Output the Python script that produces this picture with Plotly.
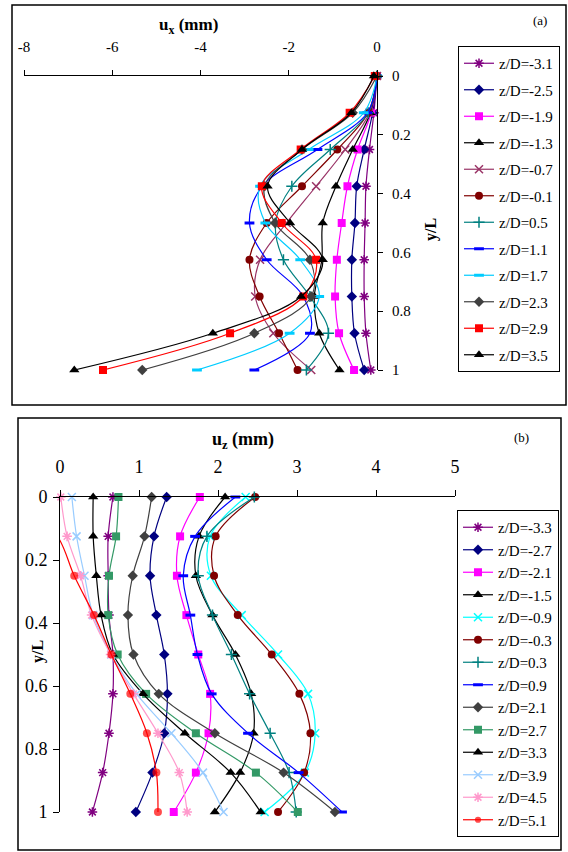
import plotly.graph_objects as go

W, H = 568, 852
FONT = "Liberation Serif"

# ---------------- data: panel (a) ----------------
yL = [0, 0.125, 0.25, 0.375, 0.5, 0.625, 0.75, 0.875, 1]
a_labels = ["z/D=-3.1", "z/D=-2.5", "z/D=-1.9", "z/D=-1.3", "z/D=-0.7", "z/D=-0.1",
            "z/D=0.5", "z/D=1.1", "z/D=1.7", "z/D=2.3", "z/D=2.9", "z/D=3.5"]
ux_m31 = [0, -0.07, -0.17, -0.25, -0.27, -0.29, -0.29, -0.25, -0.14]
ux_m25 = [0, -0.10, -0.29, -0.46, -0.50, -0.57, -0.57, -0.51, -0.29]
ux_m19 = [0, -0.13, -0.44, -0.67, -0.80, -0.91, -0.95, -0.86, -0.52]
ux_m13 = [0, -0.15, -0.55, -0.93, -1.23, -1.25, -1.42, -1.31, -0.85]
ux_m07 = [0, -0.17, -0.72, -1.38, -2.05, -2.65, -2.76, -2.35, -1.49]
ux_m01 = [0, -0.20, -0.90, -1.70, -2.50, -2.89, -2.66, -2.22, -1.80]
ux_p05 = [0, -0.20, -1.06, -1.93, -2.30, -2.12, -1.52, -1.10, -1.60]
ux_p11 = [0, -0.22, -1.35, -2.60, -2.89, -2.50, -1.67, -1.52, -2.78]
ux_p17 = [0, -0.30, -1.55, -2.65, -2.53, -1.74, -1.31, -1.98, -4.08]
ux_p23 = [0, -0.55, -1.70, -2.55, -2.31, -1.52, -1.49, -2.78, -5.32]
ux_p29 = [-0.05, -0.62, -1.73, -2.61, -2.16, -1.38, -1.67, -3.33, -6.21]
ux_p35 = [-0.07, -0.58, -1.70, -2.48, -1.97, -1.23, -1.72, -3.72, -6.86]
a_values = [ux_m31, ux_m25, ux_m19, ux_m13, ux_m07, ux_m01,
            ux_p05, ux_p11, ux_p17, ux_p23, ux_p29, ux_p35]

# ---------------- data: panel (b) ----------------
b_labels = ["z/D=-3.3", "z/D=-2.7", "z/D=-2.1", "z/D=-1.5", "z/D=-0.9", "z/D=-0.3", "z/D=0.3",
            "z/D=0.9", "z/D=2.1", "z/D=2.7", "z/D=3.3", "z/D=3.9", "z/D=4.5", "z/D=5.1"]
uz_m33 = [0.67, 0.61, 0.61, 0.62, 0.67, 0.67, 0.62, 0.54, 0.41]
uz_m27 = [1.35, 1.19, 1.14, 1.22, 1.32, 1.36, 1.32, 1.17, 0.96]
uz_m21 = [1.77, 1.52, 1.48, 1.60, 1.75, 1.90, 1.88, 1.72, 1.44]
uz_m15 = [2.09, 1.76, 1.72, 1.93, 2.22, 2.42, 2.45, 2.28, 1.96]
uz_m09 = [2.35, 1.90, 1.91, 2.30, 2.76, 3.14, 3.23, 3.10, 2.59]
uz_m03 = [2.47, 1.97, 1.95, 2.25, 2.68, 3.03, 3.17, 3.09, 2.76]
uz_p03 = [2.46, 1.86, 1.75, 1.93, 2.17, 2.40, 2.66, 2.90, 2.99]
uz_p09 = [2.22, 1.71, 1.56, 1.65, 1.74, 1.92, 2.38, 3.02, 3.57]
uz_p21 = [1.16, 1.07, 0.92, 0.86, 0.93, 1.25, 1.96, 2.83, 3.48]
uz_p27 = [0.74, 0.71, 0.62, 0.61, 0.73, 1.09, 1.72, 2.48, 3.01]
uz_p33 = [0.42, 0.42, 0.46, 0.52, 0.67, 1.05, 1.58, 2.16, 2.54]
uz_p39 = [0.15, 0.21, 0.31, 0.42, 0.65, 0.97, 1.41, 1.81, 2.07]
uz_p45 = [0.01, 0.09, 0.26, 0.40, 0.64, 0.93, 1.24, 1.51, 1.61]
uz_p51 = [-0.50, -0.03, 0.18, 0.43, 0.65, 0.89, 1.10, 1.22, 1.24]
b_values = [uz_m33, uz_m27, uz_m21, uz_m15, uz_m09, uz_m03, uz_p03,
            uz_p09, uz_p21, uz_p27, uz_p33, uz_p39, uz_p45, uz_p51]

a_xticks = [-8, -6, -4, -2, 0]
b_xticks = [0, 1, 2, 3, 4, 5]
y_ticks = [0, 0.2, 0.4, 0.6, 0.8, 1]
y_ticktext = ["0", "0.2", "0.4", "0.6", "0.8", "1"]

# ---------------- styles ----------------
a_styles = [
    ("#800080", "asterisk-open"), ("#000080", "diamond"), ("#FF00FF", "square"),
    ("#000000", "triangle-up"), ("#993366", "x-thin-open"), ("#800000", "circle"),
    ("#008080", "cross-thin-open"), ("#0000FF", "line-ew-open"), ("#00CCFF", "line-ew-open"),
    ("#404040", "diamond"), ("#FF0000", "square"), ("#000000", "triangle-up"),
]
b_styles = [
    ("#800080", "asterisk-open"), ("#000080", "diamond"), ("#FF00FF", "square"),
    ("#000000", "triangle-up"), ("#00FFFF", "x-thin-open"), ("#800000", "circle"),
    ("#008080", "cross-thin-open"), ("#0000FF", "line-ew-open"), ("#404040", "diamond"),
    ("#339966", "square"), ("#000000", "triangle-up"), ("#99CCFF", "x-thin-open"),
    ("#FF99CC", "asterisk-open"), ("#FF0000", "circle"),
]


def marker_for(color, sym):
    open_sym = sym.endswith("open")
    size = 8
    lw = 1.5
    if sym == "line-ew-open":
        size, lw = 7, 3
    if sym == "triangle-up":
        size = 9
    return dict(color=color, symbol=sym, size=size,
                line=dict(color=color, width=lw if open_sym else 0))


fig = go.Figure()

for i, (lab, vals) in enumerate(zip(a_labels, a_values)):
    c, s = a_styles[i]
    fig.add_trace(go.Scatter(
        x=vals, y=yL, name=lab, mode="lines+markers", xaxis="x", yaxis="y",
        line=dict(color=c, width=1.2, shape="spline"), marker=marker_for(c, s),
        cliponaxis=False, legend="legend", legendgroup="a%d" % i))

for i, (lab, vals) in enumerate(zip(b_labels, b_values)):
    c, s = b_styles[i]
    m = marker_for(c, s)
    if lab == "z/D=5.1":
        m["size"] = [0 if v < 0 else m["size"] for v in vals]
    fig.add_trace(go.Scatter(
        x=vals, y=yL, name=lab, mode="lines+markers", xaxis="x2", yaxis="y2",
        line=dict(color=c, width=1.2, shape="spline"), marker=m,
        cliponaxis=False, legend="legend2", legendgroup="b%d" % i))


def px(x):
    return x / W


def py(y):
    return 1 - y / H


def note(text, x, y, size, angle=0):
    return dict(text=text, x=px(x), y=py(y), xref="paper", yref="paper",
                xanchor="center", yanchor="middle", showarrow=False, textangle=angle,
                font=dict(size=size, family=FONT, color="black"))


axis_common = dict(showline=True, linecolor="black", linewidth=1, ticks="outside",
                   tickcolor="black", showgrid=False, zeroline=False, automargin=False)

fig.update_layout(
    template="none",
    width=W, height=H, autosize=False,
    margin=dict(l=0, r=0, t=0, b=0, pad=0, autoexpand=False),
    paper_bgcolor="white", plot_bgcolor="rgba(0,0,0,0)",
    font=dict(family=FONT, color="black"),
    xaxis=dict(domain=[px(24), px(377)], range=[-8, 0], side="top", anchor="y",
               tickvals=a_xticks, ticktext=[str(v) for v in a_xticks], ticklen=5,
               ticklabelstandoff=12, tickfont=dict(size=15, family=FONT), **axis_common),
    yaxis=dict(domain=[py(370), py(76)], range=[1, 0], side="right", anchor="x",
               tickvals=y_ticks, ticktext=y_ticktext, ticklen=5,
               ticklabelstandoff=6, tickfont=dict(size=15, family=FONT), **axis_common),
    xaxis2=dict(domain=[px(60), px(455)], range=[0, 5], side="top", anchor="y2",
                tickvals=b_xticks, ticktext=[str(v) for v in b_xticks], ticklen=6,
                ticklabelstandoff=10, tickfont=dict(size=18, family=FONT), **axis_common),
    yaxis2=dict(domain=[py(812), py(497)], range=[1, 0], side="left", anchor="x2",
                tickvals=y_ticks, ticktext=y_ticktext, ticklen=6,
                ticklabelstandoff=2, tickfont=dict(size=18, family=FONT), **axis_common),
    legend=dict(x=px(458), y=py(46), xanchor="left", yanchor="top",
                bordercolor="black", borderwidth=1, bgcolor="white",
                font=dict(size=15, family=FONT), tracegroupgap=4, itemwidth=30),
    legend2=dict(x=px(457), y=py(510), xanchor="left", yanchor="top",
                 bordercolor="black", borderwidth=1, bgcolor="white",
                 font=dict(size=15, family=FONT), tracegroupgap=0, itemwidth=30),
    shapes=[
        dict(type="rect", xref="paper", yref="paper", x0=px(12), x1=px(566), y0=py(405), y1=py(5),
             line=dict(color="black", width=1.5)),
        dict(type="rect", xref="paper", yref="paper", x0=px(18), x1=px(561), y0=py(850), y1=py(418),
             line=dict(color="black", width=1.5)),
    ],
    annotations=[
        note("<b>u<sub>x</sub> (mm)</b>", 188, 26, 17),
        note("<b>y/L</b>", 431, 230, 16, angle=-90),
        note("(a)", 540, 20, 13),
        note("<b>u<sub>z</sub> (mm)</b>", 243, 440, 18),
        note("<b>y/L</b>", 38, 652, 16, angle=-90),
        note("(b)", 521, 437, 13),
    ],
)

fig.write_html("out.html", config={"displayModeBar": False},
               post_script="document.body.style.margin='0px';")
